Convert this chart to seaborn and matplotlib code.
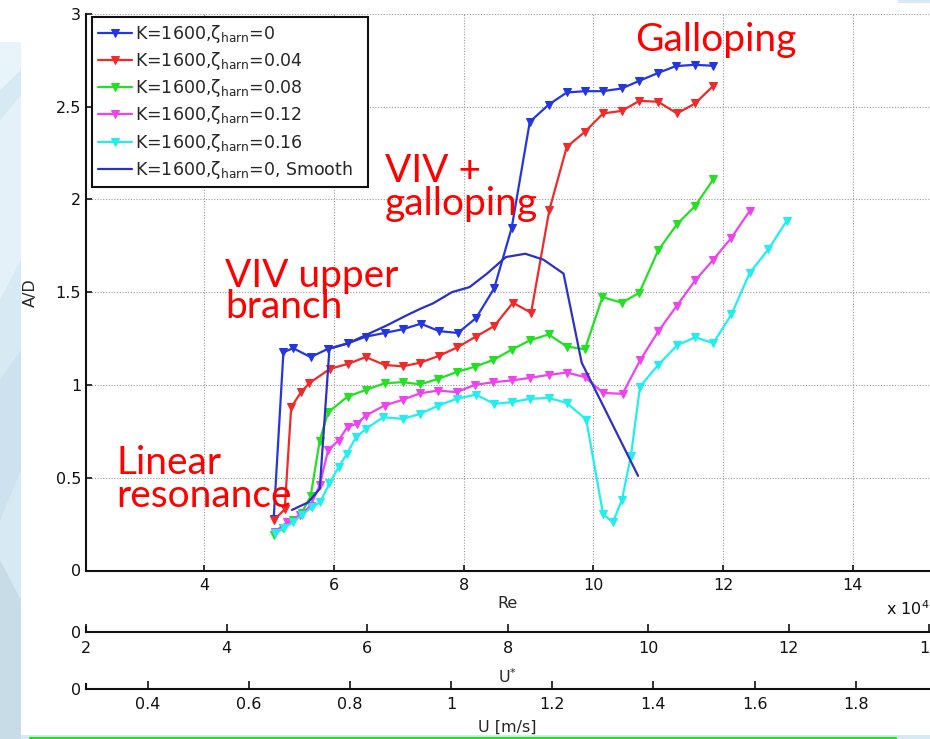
import numpy as np
import pandas as pd
import matplotlib
matplotlib.use("Agg")
import matplotlib.pyplot as plt
from matplotlib.patches import Rectangle, Polygon
from matplotlib.lines import Line2D
import seaborn as sns

# ---- measured response curves: Re (x 10^4) vs. amplitude ratio A/D ----
re_z000 = [5.07, 5.22, 5.37, 5.64, 5.91, 6.22, 6.49, 6.78, 7.06, 7.34, 7.62, 7.91, 8.19,
           8.47, 8.74, 9.02, 9.31, 9.59, 9.87, 10.15, 10.44, 10.71, 10.99, 11.27, 11.56, 11.85]
ad_z000 = [0.28, 1.176, 1.198, 1.15, 1.195, 1.225, 1.26, 1.28, 1.30, 1.33, 1.29, 1.28, 1.36,
           1.52, 1.846, 2.418, 2.51, 2.576, 2.583, 2.583, 2.598, 2.639, 2.68, 2.718, 2.725, 2.72]

re_z004 = [5.07, 5.24, 5.34, 5.49, 5.62, 5.94, 6.22, 6.49, 6.78, 7.06, 7.33, 7.62, 7.90, 8.19,
           8.47, 8.76, 9.04, 9.32, 9.59, 9.87, 10.15, 10.44, 10.71, 11.0, 11.29, 11.57, 11.85]
ad_z004 = [0.27, 0.33, 0.88, 0.96, 1.01, 1.087, 1.114, 1.15, 1.108, 1.10, 1.12, 1.157, 1.202,
           1.261, 1.317, 1.443, 1.389, 1.941, 2.283, 2.364, 2.463, 2.477, 2.531, 2.526, 2.463,
           2.517, 2.612]

re_z008 = [5.07, 5.22, 5.37, 5.50, 5.64, 5.78, 5.91, 6.21, 6.49, 6.78, 7.06, 7.33, 7.61, 7.89,
           8.17, 8.46, 8.74, 9.02, 9.31, 9.59, 9.87, 10.14, 10.44, 10.71, 11.0, 11.29, 11.57, 11.85]
ad_z008 = [0.19, 0.23, 0.27, 0.31, 0.40, 0.70, 0.853, 0.937, 0.973, 1.009, 1.015, 1.003, 1.033,
           1.069, 1.098, 1.135, 1.19, 1.24, 1.272, 1.207, 1.192, 1.473, 1.443, 1.497, 1.725,
           1.866, 1.964, 2.108]

re_z012 = [5.09, 5.28, 5.48, 5.64, 5.78, 5.91, 6.07, 6.21, 6.35, 6.49, 6.78, 7.06, 7.33, 7.61,
           7.89, 8.17, 8.46, 8.74, 9.02, 9.31, 9.59, 9.87, 10.15, 10.45, 10.72, 11.0, 11.29,
           11.57, 11.85, 12.13, 12.41]
ad_z012 = [0.21, 0.26, 0.30, 0.35, 0.46, 0.65, 0.70, 0.775, 0.79, 0.835, 0.889, 0.92, 0.955,
           0.97, 0.961, 1.0, 1.015, 1.024, 1.038, 1.054, 1.067, 1.042, 0.957, 0.952, 1.132,
           1.288, 1.428, 1.563, 1.675, 1.794, 1.937]

re_z016 = [5.09, 5.23, 5.37, 5.50, 5.66, 5.79, 5.93, 6.07, 6.20, 6.34, 6.49, 6.76, 7.06, 7.33,
           7.61, 7.89, 8.19, 8.47, 8.74, 9.02, 9.31, 9.59, 9.89, 10.15, 10.30, 10.44, 10.58,
           10.72, 11.0, 11.29, 11.57, 11.85, 12.13, 12.41, 12.70, 12.98]
ad_z016 = [0.20, 0.23, 0.26, 0.30, 0.34, 0.37, 0.47, 0.556, 0.63, 0.718, 0.763, 0.826, 0.817,
           0.844, 0.889, 0.925, 0.948, 0.898, 0.907, 0.925, 0.93, 0.903, 0.813, 0.304, 0.259,
           0.38, 0.619, 0.991, 1.108, 1.213, 1.257, 1.225, 1.38, 1.603, 1.731, 1.883]

re_smooth = [5.35, 5.60, 5.78, 5.93, 6.20, 6.50, 6.81, 7.12, 7.33, 7.53, 7.82, 8.09, 8.36,
             8.65, 8.95, 9.23, 9.54, 9.82, 10.69]
ad_smooth = [0.326, 0.367, 0.44, 1.195, 1.222, 1.27, 1.32, 1.375, 1.41, 1.44, 1.50, 1.527,
             1.60, 1.689, 1.707, 1.675, 1.60, 1.12, 0.51]

series_labels = [
    r"K=1600,ζ$_\mathregular{harn}$=0",
    r"K=1600,ζ$_\mathregular{harn}$=0.04",
    r"K=1600,ζ$_\mathregular{harn}$=0.08",
    r"K=1600,ζ$_\mathregular{harn}$=0.12",
    r"K=1600,ζ$_\mathregular{harn}$=0.16",
]
smooth_label = r"K=1600,ζ$_\mathregular{harn}$=0, Smooth"
series_colors = ["#2436e0", "#ee2a2a", "#22e022", "#ee44ee", "#22eeee"]
smooth_color = "#2a30c8"

# axis ranges / ticks
re_lim = (2.1755, 15.181)
ad_ticks = [0, 0.5, 1, 1.5, 2, 2.5, 3]
ad_ticklabels = ["0", "0.5", "1", "1.5", "2", "2.5", "3"]
re_ticks = [4, 6, 8, 10, 12, 14]
ustar_lim = (2, 14)
ustar_ticks = [2, 4, 6, 8, 10, 12, 14]
u_lim = (0.278, 1.9456)
u_ticks = [0.4, 0.6, 0.8, 1.0, 1.2, 1.4, 1.6, 1.8]
u_ticklabels = ["0.4", "0.6", "0.8", "1", "1.2", "1.4", "1.6", "1.8"]

annotations = [
    ("Galloping", 635, 51),
    ("VIV +", 385, 182),
    ("galloping", 385, 215),
    ("VIV upper", 225, 287),
    ("branch", 225, 318),
    ("Linear", 116, 474),
    ("resonance", 116, 507),
]

# ---- style ----
FS = 11.5
sns.set_theme(style="ticks")
plt.rcParams["font.family"] = ["DejaVu Sans"]
plt.rcParams["mathtext.fontset"] = "custom"
plt.rcParams["mathtext.rm"] = "DejaVu Sans"
plt.rcParams["xtick.direction"] = "in"
plt.rcParams["ytick.direction"] = "in"
plt.rcParams["xtick.major.size"] = 4.5
plt.rcParams["ytick.major.size"] = 4.5
plt.rcParams["xtick.major.width"] = 1.2
plt.rcParams["ytick.major.width"] = 1.2
plt.rcParams["xtick.major.pad"] = 5.5
plt.rcParams["ytick.major.pad"] = 3.5
plt.rcParams["xtick.labelsize"] = FS
plt.rcParams["ytick.labelsize"] = FS
plt.rcParams["axes.labelsize"] = FS
plt.rcParams["xtick.color"] = "#111111"
plt.rcParams["ytick.color"] = "#111111"

W, H = 930, 739
fig = plt.figure(figsize=(W / 100, H / 100), dpi=100, facecolor="white")


def fx(px):
    return px / W


def fy(py):
    return 1 - py / H


# slide background bits around the figure
bg = "#d7e9f3"
fig.patches.append(Rectangle((0, 0), fx(21), fy(42), transform=fig.transFigure,
                             facecolor=bg, edgecolor="none", zorder=-5))
for pts, col in [
    ([(0, 120), (21, 95), (21, 260), (0, 300)], "#e4f1f8"),
    ([(0, 380), (21, 350), (21, 470), (0, 520)], "#cde2ee"),
    ([(0, 560), (21, 600), (21, 739), (0, 739)], "#c8dce8"),
    ([(0, 42), (21, 42), (21, 70), (0, 90)], "#e9f4fa"),
]:
    fig.patches.append(Polygon([(fx(a), fy(b)) for a, b in pts], closed=True,
                               transform=fig.transFigure, facecolor=col,
                               edgecolor="none", zorder=-4))
fig.patches.append(Rectangle((0, 0), 1, fy(735), transform=fig.transFigure,
                             facecolor=bg, edgecolor="none", zorder=-5))
fig.patches.append(Rectangle((fx(898), fy(3)), fx(32), 3 / H, transform=fig.transFigure,
                             facecolor=bg, edgecolor="none", zorder=-5))
fig.lines.append(Line2D([fx(30), fx(896)], [fy(737.6), fy(737.6)], transform=fig.transFigure,
                        color="#22dd22", linewidth=1.6, zorder=-3))

# ---- main axes ----
left, right = 86, 929.3
ax = fig.add_axes([fx(left), fy(570.5), fx(right - left), (570.5 - 13.8) / H])
ax.set_facecolor("none")

for re_v, ad_v, lab, col in zip([re_z000, re_z004, re_z008, re_z012, re_z016],
                                [ad_z000, ad_z004, ad_z008, ad_z012, ad_z016],
                                series_labels, series_colors):
    sns.lineplot(x=re_v, y=ad_v, ax=ax, color=col, marker="v", markersize=5.5,
                 markeredgecolor=col, markerfacecolor=col, linewidth=1.6,
                 label=lab, sort=False, estimator=None)
sns.lineplot(x=re_smooth, y=ad_smooth, ax=ax, color=smooth_color, linewidth=1.6,
             label=smooth_label, sort=False, estimator=None)

ax.set_xlim(*re_lim)
ax.set_ylim(0, 3)
ax.set_xticks(re_ticks)
ax.set_xticklabels([str(t) for t in re_ticks])
ax.set_yticks(ad_ticks)
ax.set_yticklabels(ad_ticklabels)
ax.grid(True, linestyle=(0, (1, 1.5)), color="#9a9a9a", linewidth=0.8)
ax.set_axisbelow(True)
for s in ["top", "right"]:
    ax.spines[s].set_visible(False)
for s in ["left", "bottom"]:
    ax.spines[s].set_linewidth(1.5)
    ax.spines[s].set_color("#111111")
ax.set_xlabel("Re", labelpad=2)
ax.set_ylabel("A/D", labelpad=13)
ax.text(1.0, -0.068, r"x 10$^\mathregular{4}$", transform=ax.transAxes,
        ha="right", va="center", fontsize=FS, color="#111111")

# legend box spans a fixed width; entries stacked from the top
leg_x0, leg_top, leg_w = 91.7, 16.7, 276
handles, labels = ax.get_legend_handles_labels()
leg = ax.legend(handles, labels, loc="upper left", mode="expand",
                bbox_to_anchor=(fx(leg_x0), fy(leg_top), fx(leg_w), 0),
                bbox_transform=fig.transFigure,
                borderaxespad=0, frameon=True, fancybox=False, framealpha=1,
                edgecolor="#111111", fontsize=12.5, handlelength=1.95, handletextpad=0.2,
                labelspacing=0.3, borderpad=0.35, numpoints=1)
leg.get_frame().set_linewidth(1.5)

# ---- secondary axes: U* and U ----
def strip_axis(y_px, lim, ticks, ticklabels, label, tickpad, labelpad):
    a = fig.add_axes([fx(left), fy(y_px), fx(right - left), 5 / H])
    a.set_facecolor("none")
    a.set_xlim(*lim)
    a.set_ylim(0, 1)
    a.set_xticks(ticks)
    a.set_xticklabels(ticklabels)
    a.set_yticks([0])
    a.set_yticklabels(["0"])
    a.tick_params(axis="y", length=0)
    a.tick_params(axis="x", length=5.5, pad=tickpad)
    for s in ["top", "right"]:
        a.spines[s].set_visible(False)
    for s in ["left", "bottom"]:
        a.spines[s].set_linewidth(1.5)
        a.spines[s].set_color("#111111")
    a.set_xlabel(label, labelpad=labelpad)
    return a


strip_axis(631.7, ustar_lim, ustar_ticks, [str(t) for t in ustar_ticks],
           r"U$^\mathregular{*}$", 7, 8)
strip_axis(689.3, u_lim, u_ticks, u_ticklabels, "U [m/s]", 5.5, 6)

# ---- flow-regime annotations ----
for txt, x_px, y_px in annotations:
    fig.text(fx(x_px), fy(y_px), txt, color="#ff0000", fontsize=28,
             family=["Lato", "DejaVu Sans"], ha="left", va="baseline")

fig.savefig("out.png", dpi=100, facecolor="white")
